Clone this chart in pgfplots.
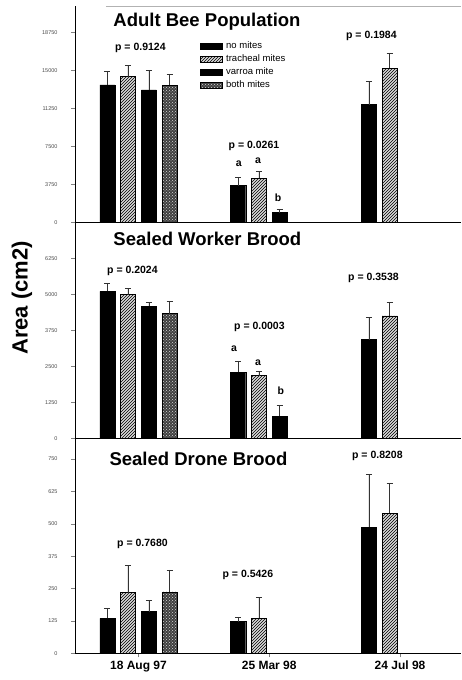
\documentclass[border=0pt]{standalone}
\usepackage{fontspec}
\setmainfont{Liberation Sans}
\usepackage{pgfplots}
\pgfplotsset{compat=1.18}
\usetikzlibrary{patterns}

\tikzset{
  pl/.style={font=\fontsize{10.5}{12}\selectfont\bfseries},
  ttl/.style={font=\fontsize{18.5}{20}\selectfont\bfseries, anchor=west},
}
\pgfplotsset{
  mylegend/.style={legend image code/.code={\draw[##1] (0pt,-2.6pt) rectangle (22pt,2.6pt);}},
  nomite/.style={fill=black, draw=black, mylegend},
  trach/.style={fill=gray!30, draw=black, postaction={pattern=north east lines}, mylegend},
  varroa/.style={fill=black, draw=black, mylegend},
  both/.style={fill=black!75, draw=black, postaction={pattern=crosshatch dots, pattern color=white!85!black}, mylegend},
  panel/.style={
    scale only axis, width=386pt,
    xmin=-0.485, xmax=2.466, ymin=0,
    axis x line*=bottom, axis y line*=left,
    axis line style={line width=0.7pt},
    ybar, bar shift=0pt, bar width=0.115,
    tick align=outside, major tick length=4pt,
    ytick pos=left,
    xtick=\empty,
    yticklabel style={font=\fontsize{5.5}{6}\selectfont, text=black!70, xshift=-10pt},
    /pgf/number format/assume math mode=true,
    /pgf/number format/1000 sep={},
    scaled y ticks=false,
    error bars/y dir=plus, error bars/y explicit,
    error bars/error bar style={line width=0.5pt, black!80},
    error bars/error mark=|,
    error bars/error mark options={line width=0.5pt, mark size=3pt, black!80},
    clip=false,
  },
}

\begin{document}
\begin{tikzpicture}
\useasboundingbox (0,0) rectangle (461pt,680pt);

% Panel 1: Adult Bee Population
\begin{axis}[panel, at={(75pt,457.7pt)}, anchor=south west, height=216pt,
  ymax=21300, ytick={0,3750,7500,11250,15000,18750},
  legend style={at={(0.324,0.845)}, anchor=north west, draw=none, fill=none,
    font=\fontsize{9.5}{10}\selectfont, row sep=0.6pt, inner sep=0pt,
    nodes={inner xsep=3.5pt}},
  legend cell align=left]
\addplot[nomite] coordinates {(-0.2375,13550) +- (0,1350) (0.7625,3610) +- (0,830) (1.7625,11610) +- (0,2340)};
\addplot[trach] coordinates {(-0.08,14370) +- (0,1130) (0.92,4340) +- (0,660) (1.92,15200) +- (0,1510)};
\addplot[varroa] coordinates {(0.08,13060) +- (0,1940) (1.08,950) +- (0,360)};
\addplot[both] coordinates {(0.2375,13490) +- (0,1080)};
\legend{no mites, tracheal mites, varroa mite, both mites}
\draw[gray!60, line width=0.8pt] (rel axis cs:0.08,1) -- (rel axis cs:1,1);
\node[ttl] at (axis cs:-0.218,19770) {Adult Bee Population};
\node[pl] at (axis cs:0.015,17200) {p = 0.9124};
\node[pl] at (axis cs:0.883,7530) {p = 0.0261};
\node[pl] at (axis cs:0.768,5750) {a};
\node[pl] at (axis cs:0.914,6050) {a};
\node[pl] at (axis cs:1.067,2400) {b};
\node[pl] at (axis cs:1.781,18390) {p = 0.1984};
\end{axis}

% Panel 2: Sealed Worker Brood
\begin{axis}[panel, at={(75pt,241.7pt)}, anchor=south west, height=216pt,
  ymax=7500, ytick={0,1250,2500,3750,5000,6250}]
\addplot[nomite] coordinates {(-0.2375,5100) +- (0,280) (0.7625,2290) +- (0,400) (1.7625,3430) +- (0,760)};
\addplot[trach] coordinates {(-0.08,4990) +- (0,210) (0.92,2180) +- (0,160) (1.92,4250) +- (0,470)};
\addplot[varroa] coordinates {(0.08,4590) +- (0,140) (1.08,770) +- (0,370)};
\addplot[both] coordinates {(0.2375,4330) +- (0,430)};
\node[ttl] at (axis cs:-0.218,6940) {Sealed Worker Brood};
\node[pl] at (axis cs:-0.046,5795) {p = 0.2024};
\node[pl] at (axis cs:0.925,3855) {p = 0.0003};
\node[pl] at (axis cs:0.730,3093) {a};
\node[pl] at (axis cs:0.914,2608) {a};
\node[pl] at (axis cs:1.089,1638) {b};
\node[pl] at (axis cs:1.797,5553) {p = 0.3538};
\end{axis}

% Panel 3: Sealed Drone Brood
\begin{axis}[panel, at={(75pt,26.7pt)}, anchor=south west, height=215pt,
  ymax=830, ytick={0,125,250,375,500,625,750},
  xtick={0,1,2}, xticklabels={18 Aug 97, 25 Mar 98, 24 Jul 98},
  xtick pos=bottom,
  xticklabel style={font=\fontsize{12}{14}\selectfont\bfseries}]
\addplot[nomite] coordinates {(-0.2375,135) +- (0,39) (0.7625,122) +- (0,19) (1.7625,487) +- (0,205)};
\addplot[trach] coordinates {(-0.08,234) +- (0,106) (0.92,135) +- (0,83) (1.92,540) +- (0,118)};
\addplot[varroa] coordinates {(0.08,161) +- (0,44)};
\addplot[both] coordinates {(0.2375,237) +- (0,85)};
\node[ttl] at (axis cs:-0.248,750) {Sealed Drone Brood};
\node[pl] at (axis cs:0.031,422) {p = 0.7680};
\node[pl] at (axis cs:0.837,302) {p = 0.5426};
\node[pl] at (axis cs:1.827,762) {p = 0.8208};
\end{axis}

\node[rotate=90, font=\fontsize{22}{24}\selectfont\bfseries] at (22pt,382pt) {Area (cm2)};
\end{tikzpicture}
\end{document}
